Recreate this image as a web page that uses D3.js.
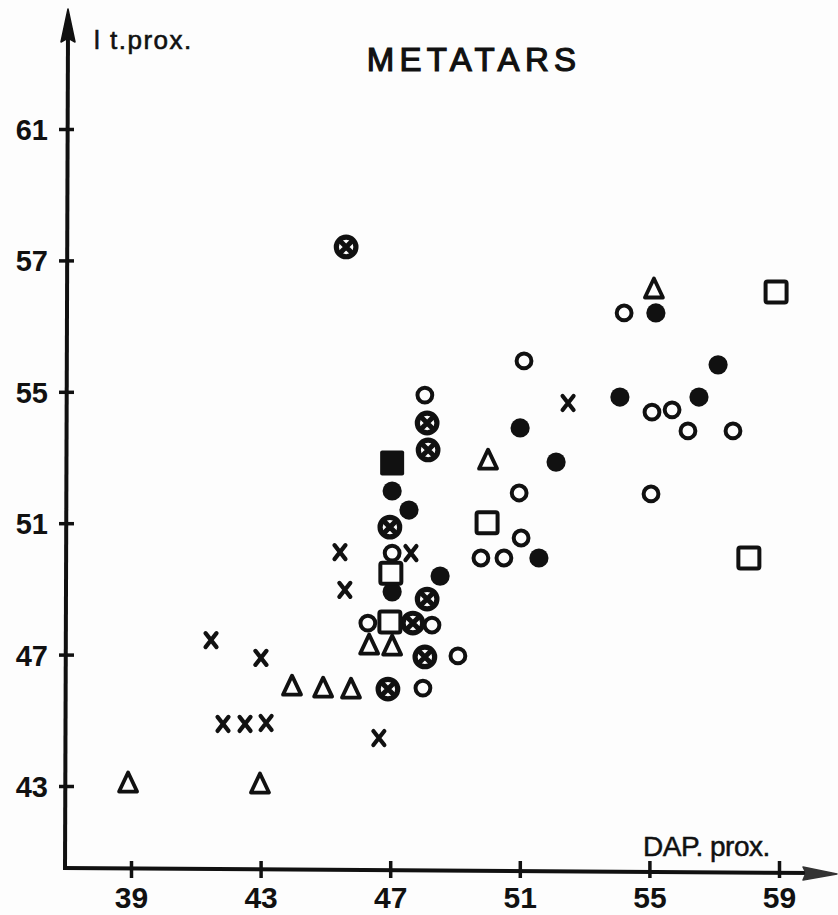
<!DOCTYPE html>
<html>
<head>
<meta charset="utf-8">
<script src="https://cdn.jsdelivr.net/npm/d3@7"></script>
<style>
  html, body { margin: 0; padding: 0; background: #fdfdfd; }
  svg { display: block; }
  text { font-family: "Liberation Sans", Arial, sans-serif; fill: #111; }
</style>
</head>
<body>
<svg id="chart" width="838" height="915"></svg>
<script>
// ---- data ----
const title = "METATARS";
const xLabel = "DAP. prox.";
const yLabel = "l t.prox.";
const xTicks = [39, 43, 47, 51, 55, 59];
const xTickLabels = ["39", "43", "47", "51", "55", "59"];
const yTicks = [43, 47, 51, 55, 59, 63];
const yTickLabels = ["43", "47", "51", "55", "57", "61"];

// [DAP prox., lt. prox.] per specimen, grouped by symbol
const openCircles = [[54.22,57.40],[51.13,55.94],[48.07,54.90],[55.08,54.38],[55.70,54.45],[56.19,53.81],[57.58,53.81],[50.98,51.92],[55.05,51.89],[51.04,50.55],[49.80,49.94],[50.51,49.94],[47.06,50.09],[46.31,47.96],[48.29,47.90],[49.09,46.96],[48.01,45.98]];
const filledCircles = [[55.20,57.40],[57.12,55.82],[54.09,54.84],[56.53,54.84],[51.01,53.90],[52.12,52.86],[47.06,51.98],[47.58,51.40],[51.59,49.94],[48.54,49.39],[47.06,48.91]];
const crossedCircles = [[45.64,59.41],[48.14,54.05],[48.17,53.23],[46.99,50.88],[48.14,48.69],[47.70,47.96],[48.07,46.93],[46.93,45.95]];
const filledSquares = [[47.06,52.83]];
const openSquares = [[58.91,58.04],[49.99,51.01],[58.07,49.94],[47.02,49.48],[46.99,47.99]];
const triangles = [[55.14,58.16],[50.02,52.95],[46.35,47.32],[47.06,47.29],[43.97,46.07],[44.93,46.01],[45.79,45.98],[38.91,43.12],[42.98,43.09]];
const crosses = [[52.49,54.66],[45.45,50.12],[47.64,50.09],[45.60,48.97],[41.47,47.44],[43.01,46.90],[41.84,44.89],[42.52,44.89],[43.17,44.92],[46.65,44.46]];

// ---- layout ----
const svg = d3.select("#chart");
const ink = "#111";
const x = d3.scaleLinear().domain([39, 59]).range([131, 779]);
const y = d3.scaleLinear().domain([43, 63]).range([786, 129]);
const axisX0 = 66;   // pixel x of vertical axis
const axisY0 = 870;  // pixel y of horizontal axis

// axes lines with arrowheads
svg.append("line").attr("x1", axisX0 - 1).attr("y1", axisY0).attr("x2", 68).attr("y2", 30)
  .attr("stroke", ink).attr("stroke-width", 4);
svg.append("path").attr("d", "M68,9 L75,42 L68,38 L61,42 Z").attr("fill", ink).attr("stroke", ink).attr("stroke-width", 1.5).attr("stroke-linejoin","round");
svg.append("line").attr("x1", axisX0 - 3).attr("y1", axisY0 - 2).attr("x2", 815).attr("y2", 873)
  .attr("stroke", ink).attr("stroke-width", 4);
svg.append("path").attr("d", "M837,874 L803,867 L806,873 L803,880 Z").attr("fill", "#333").attr("stroke", "#333").attr("stroke-width", 1.5).attr("stroke-linejoin","round");

// x axis ticks
const gx = svg.append("g").attr("transform", `translate(0,${axisY0})`)
  .call(d3.axisBottom(x).tickValues(xTicks).tickFormat((d, i) => xTickLabels[i]).tickSize(8));
gx.select(".domain").remove();
gx.selectAll(".tick line").attr("y1", -9).attr("y2", 8).attr("stroke", ink).attr("stroke-width", 3.5);
gx.selectAll(".tick text").attr("y", 17).attr("dy", "0.71em")
  .style("font-size", "30px").style("font-weight", "bold").style("fill", ink);

// y axis ticks
const gy = svg.append("g").attr("transform", `translate(${axisX0},0)`)
  .call(d3.axisLeft(y).tickValues(yTicks).tickFormat((d, i) => yTickLabels[i]).tickSize(7));
gy.select(".domain").remove();
gy.selectAll(".tick line").attr("x1", -7).attr("x2", 8).attr("stroke", ink).attr("stroke-width", 3.5);
gy.selectAll(".tick text").attr("x", -18).attr("dy", "0.36em")
  .style("font-size", "29px").style("font-weight", "bold").style("fill", ink);

// titles
svg.append("text").attr("x", 474).attr("y", 71).attr("text-anchor", "middle")
  .style("font-size", "33px").style("letter-spacing", "5.3px")
  .attr("stroke", ink).attr("stroke-width", 1.2).text(title);
svg.append("text").attr("x", 94).attr("y", 49)
  .style("font-size", "26px").style("letter-spacing", "1.5px")
  .attr("stroke", ink).attr("stroke-width", 0.6).text(yLabel);
svg.append("text").attr("x", 643).attr("y", 856)
  .style("font-size", "28px").style("letter-spacing", "-0.5px")
  .attr("stroke", ink).attr("stroke-width", 0.5).text(xLabel);

// ---- marks ----
const marks = svg.append("g");
const pos = d => `translate(${x(d[0])},${y(d[1])})`;

marks.selectAll(".oc").data(openCircles).join("circle").attr("class", "oc")
  .attr("transform", pos).attr("r", 7.4).attr("fill", "none").attr("stroke", ink).attr("stroke-width", 4);

marks.selectAll(".fc").data(filledCircles).join("circle").attr("class", "fc")
  .attr("transform", pos).attr("r", 9.6).attr("fill", ink);

const cc = marks.selectAll(".cc").data(crossedCircles).join("g").attr("class", "cc").attr("transform", pos);
cc.append("circle").attr("r", 9.8).attr("fill", "none").attr("stroke", ink).attr("stroke-width", 5.2);
cc.append("path").attr("d", "M-7,-7L7,7M7,-7L-7,7").attr("stroke", ink).attr("stroke-width", 5);

marks.selectAll(".os").data(openSquares).join("rect").attr("class", "os")
  .attr("transform", pos).attr("x", -10.5).attr("y", -10.5).attr("width", 21).attr("height", 21).attr("rx", 2)
  .attr("fill", "none").attr("stroke", ink).attr("stroke-width", 4);

marks.selectAll(".fs").data(filledSquares).join("rect").attr("class", "fs")
  .attr("transform", pos).attr("x", -12).attr("y", -12.5).attr("width", 24).attr("height", 25).attr("rx", 2)
  .attr("fill", ink);

marks.selectAll(".tr").data(triangles).join("path").attr("class", "tr")
  .attr("transform", pos).attr("d", "M0,-9.5L9,9.5L-9,9.5Z")
  .attr("fill", "none").attr("stroke", ink).attr("stroke-width", 3.8).attr("stroke-linejoin", "round");

marks.selectAll(".xx").data(crosses).join("path").attr("class", "xx")
  .attr("transform", pos).attr("d", "M-5.5,-7L5.5,7M5.5,-7L-5.5,7")
  .attr("stroke", ink).attr("stroke-width", 4.2).attr("stroke-linecap", "round");
</script>
</body>
</html>
